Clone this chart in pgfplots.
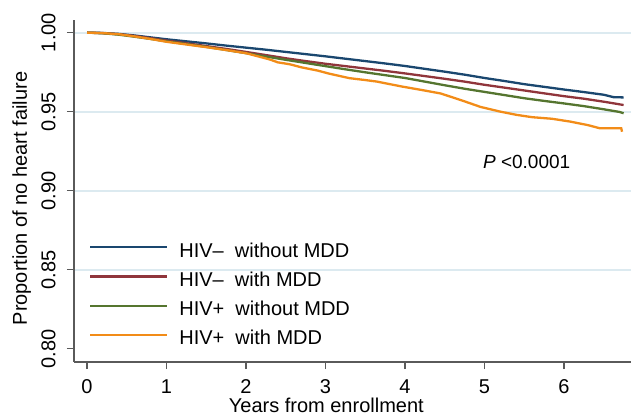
\documentclass[border=0pt]{standalone}
\usepackage{fontspec}
\setmainfont{Liberation Sans}
\usepackage{pgfplots}
\pgfplotsset{compat=1.18}
\definecolor{cblue}{RGB}{26,71,111}
\definecolor{cred}{RGB}{144,53,59}
\definecolor{cgreen}{RGB}{85,117,47}
\definecolor{corange}{RGB}{242,140,24}
\definecolor{cgrid}{RGB}{220,234,240}
\definecolor{caxis}{RGB}{90,90,90}
\begin{document}
\begin{tikzpicture}
\begin{axis}[
  name=ax,
  scale only axis,
  width=278.5pt, height=171pt,
  xmin=-0.164, xmax=6.843,
  ymin=0.7916, ymax=1.0080,
  axis x line*=bottom, axis y line*=left,
  axis line style={-, draw=caxis, line width=0.6pt},
  tick align=outside,
  major tick length=3.5pt,
  tick style={draw=caxis, line width=0.6pt},
  xtick={0,1,2,3,4,5,6},
  ytick={0.85,0.90,0.95,1.00},
  ymajorgrids=true,
  extra y ticks={0.80},
  extra y tick style={grid=none},
  minor tick num=0,
  /pgf/number format/assume math mode=true,
  tick label style={font=\fontsize{10}{12}\selectfont},
  xticklabel style={anchor=north, inner sep=0pt},
  xticklabel shift=5pt,
  yticklabel style={/pgf/number format/.cd, fixed, fixed zerofill, precision=2, /tikz/.cd, rotate=90, anchor=base, inner sep=0pt},
  yticklabel shift=5.75pt,
  major grid style={draw=cgrid, line width=0.9pt},
  xlabel={Years from enrollment},
  ylabel={Proportion of no heart failure},
  xlabel style={font=\fontsize{10}{12}\selectfont, at={(rel axis cs:0.453,0)}, anchor=north, inner sep=0pt, yshift=-18pt},
  ylabel style={font=\fontsize{10}{12}\selectfont, at={(rel axis cs:-0.0845,0.478)}, anchor=base, inner sep=0pt},
  legend style={at={(rel axis cs:0.027,0.3482)}, anchor=north west, draw=none, fill=none,
    inner sep=0pt, outer sep=0pt, row sep=7.4pt, column sep=5.5pt,
    font=\fontsize{10}{12}\selectfont,
    nodes={inner sep=0pt, text height=7.2pt, text depth=0pt}},
  legend cell align=left,
  legend image code/.code={\draw[#1] (0pt,1.4pt) -- (38.5pt,1.4pt);},
  every axis plot/.append style={line width=1.15pt},
]
\addplot[cblue] coordinates {
(0,1.0000) (0.2,0.9998) (0.4,0.9992) (0.6,0.9982) (0.8,0.9970) (1.0,0.9958)
(1.25,0.9945) (1.5,0.9932) (1.75,0.9918) (2.0,0.9905) (2.25,0.9892) (2.5,0.9878)
(2.75,0.9864) (3.0,0.9850) (3.25,0.9835) (3.5,0.9820) (3.75,0.9805) (4.0,0.9789)
(4.25,0.9771) (4.5,0.9753) (4.75,0.9734) (5.0,0.9713) (5.25,0.9694) (5.5,0.9674)
(5.75,0.9657) (6.0,0.9640) (6.25,0.9624) (6.5,0.9607) (6.62,0.9592) (6.75,0.9590)
};
\addlegendentry{HIV--\ \ without MDD}
\addplot[cred] coordinates {
(0,1.0000) (0.2,0.9997) (0.4,0.9990) (0.6,0.9979) (0.8,0.9965) (1.0,0.9950)
(1.25,0.9933) (1.5,0.9915) (1.75,0.9897) (2.0,0.9878) (2.25,0.9858) (2.5,0.9838)
(2.75,0.9820) (3.0,0.9803) (3.25,0.9788) (3.5,0.9773) (3.75,0.9758) (4.0,0.9742)
(4.25,0.9725) (4.5,0.9708) (4.75,0.9690) (5.0,0.9670) (5.25,0.9652) (5.5,0.9634)
(5.75,0.9616) (6.0,0.9598) (6.25,0.9582) (6.5,0.9563) (6.75,0.9542)
};
\addlegendentry{HIV--\ \ with MDD}
\addplot[cgreen] coordinates {
(0,1.0000) (0.2,0.9996) (0.4,0.9987) (0.6,0.9974) (0.8,0.9960) (1.0,0.9945)
(1.25,0.9928) (1.5,0.9910) (1.75,0.9890) (2.0,0.9870) (2.25,0.9849) (2.5,0.9828)
(2.75,0.9808) (3.0,0.9788) (3.25,0.9768) (3.5,0.9749) (3.75,0.9731) (4.0,0.9713)
(4.25,0.9690) (4.5,0.9667) (4.75,0.9645) (5.0,0.9625) (5.25,0.9605) (5.5,0.9585)
(5.75,0.9568) (6.0,0.9552) (6.25,0.9535) (6.5,0.9515) (6.7,0.9498) (6.75,0.9490)
};
\addlegendentry{HIV+\ \ without MDD}
\addplot[corange] coordinates {
(0,1.0000) (0.2,0.9997) (0.4,0.9990) (0.6,0.9976) (0.8,0.9960) (1.0,0.9942)
(1.25,0.9925) (1.5,0.9908) (1.75,0.9890) (2.0,0.9870) (2.15,0.9850) (2.3,0.9830)
(2.4,0.9812) (2.55,0.9800) (2.7,0.9780) (2.9,0.9760) (3.05,0.9740) (3.3,0.9712)
(3.5,0.9700) (3.65,0.9690) (3.95,0.9660) (4.2,0.9638) (4.45,0.9615) (4.6,0.9590)
(4.75,0.9565) (4.95,0.9530) (5.2,0.9500) (5.4,0.9480) (5.6,0.9465) (5.85,0.9455)
(6.08,0.9437) (6.3,0.9415) (6.45,0.9395) (6.72,0.9395) (6.73,0.9373)
};
\addlegendentry{HIV+\ \ with MDD}
\node[anchor=base west, inner sep=0pt, font=\fontsize{9.5}{11}\selectfont] at (axis cs:4.977,0.9142) {\textit{P} <0.0001};
\end{axis}
\pgfresetboundingbox
\path[use as bounding box] ([xshift=-37pt,yshift=-27.5pt]ax.south west) rectangle ([yshift=10pt]ax.north east);
\end{tikzpicture}
\end{document}
